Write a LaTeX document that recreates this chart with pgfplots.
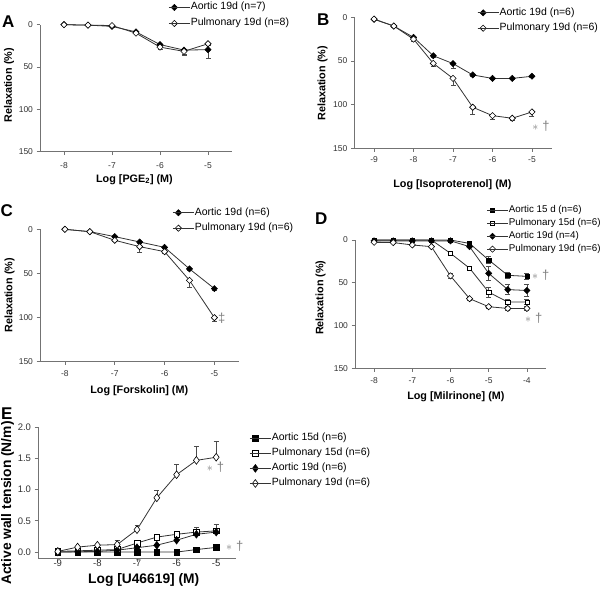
\documentclass[border=0pt]{standalone}
\usepackage{pgfplots}
\pgfplotsset{compat=1.18}
\usepackage{fontspec}
\setmainfont{Liberation Sans}
\definecolor{axgray}{gray}{0.45}
\definecolor{lngray}{gray}{0.2}
\definecolor{ebgray}{gray}{0.3}
\definecolor{stargray}{gray}{0.5}
\tikzset{starlbl/.style={font=\fontsize{13}{15}\selectfont, text=stargray, anchor=center}}
\newcommand{\lgfont}{\fontsize{10.5}{12}\selectfont}
\newcommand{\lgfontD}{\fontsize{9.8}{12}\selectfont}
\newcommand{\stars}{$\ast$\hspace{4pt}†}
\pgfplotsset{
  prism/.style={
    scale only axis, clip=false,
    axis x line*=bottom, axis y line*=left,
    axis line style={-, draw=axgray, line width=0.9pt},
    tick style={draw=axgray, line width=0.8pt},
    tick align=outside, major tick length=3.5pt,
    ticklabel style={text=black!80, font=\fontsize{8.5}{10}\selectfont},
    label style={font=\bfseries\fontsize{10.8}{13}\selectfont},
    legend style={draw=none, fill=none, inner sep=0pt, outer sep=0pt, anchor=north west,
      cells={anchor=west},
      nodes={inner sep=0.5pt, text height=7.5pt, text depth=2.5pt}},
    legend image code/.code={
      \draw[mark repeat=2, mark phase=2, ##1] plot coordinates {(0pt,0pt) (5.5pt,0pt) (11pt,0pt)};
      \path (0pt,0pt) -- (21pt,0pt);
    },
    every axis plot/.append style={line width=0.8pt, draw=lngray},
    error bars/error bar style={line width=0.6pt, draw=ebgray},
    error bars/error mark options={rotate=90, mark size=2.5pt, line width=0.6pt, draw=ebgray},
  },
  fdia/.style={mark=square*, mark size=2.2pt, mark options={rotate=45, fill=black, draw=black, solid, line width=0.5pt}},
  odia/.style={mark=square*, mark size=2.2pt, mark options={rotate=45, fill=white, draw=black, solid, line width=0.6pt}},
  fsq/.style={mark=square*, mark size=2.1pt, mark options={fill=black, draw=black, solid, line width=0.5pt}},
  osq/.style={mark=square*, mark size=2.1pt, mark options={fill=white, draw=black, solid, line width=0.6pt}},
}
\begin{document}
\begin{tikzpicture}
\useasboundingbox (0pt,0pt) rectangle (604pt,589pt);

% ---------------- A ----------------
\begin{axis}[prism, at={(40pt,437.3pt)}, anchor=south west, width=192pt, height=127pt,
  xmin=-8.5, xmax=-4.5, ymin=-150, ymax=0,
  xtick={-8,-7,-6,-5}, xticklabels={-8,-7,-6,-5},
  ytick={-150,-100,-50,0}, yticklabels={150,100,50,0},
  xticklabel style={anchor=base, yshift=-13.8pt},
  xlabel={Log [PGE\textsubscript{2}] (M)}, ylabel={Relaxation (\%)},
  xlabel style={at={(axis description cs:0.492,-0.241)}, anchor=base},
  ylabel style={at={(axis description cs:-0.147,0.523)}, anchor=base},
  legend style={at={(axis description cs:0.669,1.179)}, row sep=5pt, font=\lgfont},
  error bars/y dir=minus, error bars/y explicit]
\addplot[fdia] coordinates {(-8,0) +- (0,0) (-7.5,-0.5) +- (0,0.5) (-7,-2) +- (0,1.5) (-6.5,-8.5) +- (0,1.5) (-6,-23.5) +- (0,3) (-5.5,-30) +- (0,6) (-5,-29.5) +- (0,10)};
\addlegendentry{\lgfont Aortic 19d (n=7)}
\addplot[odia] coordinates {(-8,0) +- (0,0) (-7.5,-0.5) +- (0,0.5) (-7,-1) +- (0,1) (-6.5,-10) +- (0,1.5) (-6,-26.5) +- (0,2.5) (-5.5,-31.5) +- (0,3) (-5,-22.5) +- (0,1.5)};
\addlegendentry{\lgfont Pulmonary 19d (n=8)}
\end{axis}

% ---------------- B ----------------
\begin{axis}[prism, at={(354.3pt,440.7pt)}, anchor=south west, width=197.4pt, height=131pt,
  xmin=-9.5, xmax=-4.5, ymin=-150, ymax=0,
  xtick={-9,-8,-7,-6,-5}, xticklabels={-9,-8,-7,-6,-5},
  ytick={-150,-100,-50,0}, yticklabels={150,100,50,0},
  xticklabel style={anchor=base, yshift=-10.5pt},
  xlabel={Log [Isoproterenol] (M)}, ylabel={Relaxation (\%)},
  xlabel style={at={(axis description cs:0.497,-0.301)}, anchor=base},
  ylabel style={at={(axis description cs:-0.147,0.496)}, anchor=base},
  legend style={at={(axis description cs:0.623,1.076)}, row sep=4.4pt, font=\lgfont},
  error bars/y dir=minus, error bars/y explicit]
\addplot[fdia] coordinates {(-9,-2.3) +- (0,0.5) (-8.5,-10) +- (0,1) (-8,-23) +- (0,2) (-7.5,-44) +- (0,2) (-7,-53) +- (0,5) (-6.5,-66) +- (0,2) (-6,-70) +- (0,1.5) (-5.5,-70) +- (0,1.5) (-5,-67.5) +- (0,1.5)};
\addlegendentry{\lgfont Aortic 19d (n=6)}
\addplot[odia] coordinates {(-9,-2) +- (0,0.5) (-8.5,-10) +- (0,1) (-8,-25) +- (0,2) (-7.5,-52.7) +- (0,3) (-7,-70) +- (0,7.5) (-6.5,-103) +- (0,7.7) (-6,-112.6) +- (0,4.4) (-5.5,-115.6) +- (0,2.4) (-5,-108.4) +- (0,4.6)};
\addlegendentry{\lgfont Pulmonary 19d (n=6)}
\node[starlbl] at (axis cs:-4.77,-124.5) {\stars};
\end{axis}

% ---------------- C ----------------
\begin{axis}[prism, at={(40pt,227.7pt)}, anchor=south west, width=199.3pt, height=132pt,
  xmin=-8.5, xmax=-4.5, ymin=-150, ymax=0,
  xtick={-8,-7,-6,-5}, xticklabels={-8,-7,-6,-5},
  ytick={-150,-100,-50,0}, yticklabels={150,100,50,0},
  xticklabel style={anchor=base, yshift=-11.9pt},
  xlabel={Log [Forskolin] (M)}, ylabel={Relaxation (\%)},
  xlabel style={at={(axis description cs:0.498,-0.242)}, anchor=base},
  ylabel style={at={(axis description cs:-0.139,0.5)}, anchor=base},
  legend style={at={(axis description cs:0.665,1.167)}, row sep=4.4pt, font=\lgfont},
  error bars/y dir=minus, error bars/y explicit]
\addplot[fdia] coordinates {(-8,0) +- (0,0) (-7.5,-2.7) +- (0,0.5) (-7,-8.3) +- (0,1) (-6.5,-14.4) +- (0,1.5) (-6,-20.5) +- (0,1.5) (-5.5,-45) +- (0,2) (-5,-67.4) +- (0,1.5)};
\addlegendentry{\lgfont Aortic 19d (n=6)}
\addplot[odia] coordinates {(-8,0) +- (0,0) (-7.5,-2.7) +- (0,0.5) (-7,-12.5) +- (0,1.5) (-6.5,-19.7) +- (0,6.3) (-6,-25.4) +- (0,2) (-5.5,-58) +- (0,8) (-5,-100.4) +- (0,4)};
\addlegendentry{\lgfont Pulmonary 19d (n=6)}
\node[starlbl] at (axis cs:-4.85,-100.8) {‡};
\end{axis}

% ---------------- D ----------------
\begin{axis}[prism, at={(355pt,220.7pt)}, anchor=south west, width=191pt, height=128.3pt,
  xmin=-8.5, xmax=-3.5, ymin=-150, ymax=0,
  xtick={-8,-7,-6,-5,-4}, xticklabels={-8,-7,-6,-5,-4},
  ytick={-150,-100,-50,0}, yticklabels={150,100,50,0},
  xticklabel style={anchor=base, yshift=-11.5pt},
  xlabel={Log [Milrinone] (M)}, ylabel={Relaxation (\%)},
  xlabel style={at={(axis description cs:0.528,-0.242)}, anchor=base},
  ylabel style={at={(axis description cs:-0.166,0.55)}, anchor=base},
  legend style={at={(axis description cs:0.689,1.273)}, row sep=1.9pt, font=\lgfontD},
  error bars/y dir=both, error bars/y explicit]
\addplot[fsq] coordinates {(-8,0) +- (0,0) (-7.5,0) +- (0,0) (-7,0) +- (0,0) (-6.5,0) +- (0,0) (-6,0) +- (0,0) (-5.5,-4) +- (0,1) (-5,-23.4) +- (0,4) (-4.5,-41.3) +- (0,4) (-4,-42.5) +- (0,3)};
\addlegendentry{\lgfontD Aortic 15 d (n=6)}
\addplot[osq] coordinates {(-8,0) +- (0,0) (-7.5,0) +- (0,0) (-7,0) +- (0,0) (-6.5,0) +- (0,0) (-6,-15.6) +- (0,2) (-5.5,-33) +- (0,2) (-5,-61) +- (0,6) (-4.5,-72.5) +- (0,3) (-4,-72.5) +- (0,3)};
\addlegendentry{\lgfontD Pulmonary 15d (n=6)}
\addplot[fdia] coordinates {(-8,-1) +- (0,0) (-7.5,-1) +- (0,0) (-7,-1) +- (0,0) (-6.5,-1) +- (0,0) (-6,-1) +- (0,0) (-5.5,-7.8) +- (0,1) (-5,-39) +- (0,7.8) (-4.5,-58) +- (0,6) (-4,-59) +- (0,7)};
\addlegendentry{\lgfontD Aortic 19d (n=4)}
\addplot[odia] coordinates {(-8,-2.7) +- (0,0) (-7.5,-3) +- (0,0) (-7,-5.8) +- (0,0) (-6.5,-7.8) +- (0,0) (-6,-42) +- (0,3) (-5.5,-68.6) +- (0,2) (-5,-78) +- (0,2) (-4.5,-80) +- (0,2) (-4,-80) +- (0,2)};
\addlegendentry{\lgfontD Pulmonary 19d (n=6)}
\node[starlbl] at (axis cs:-3.64,-40.9) {\stars};
\node[starlbl] at (axis cs:-3.82,-91.5) {\stars};
\end{axis}

% ---------------- E ----------------
\begin{axis}[prism, at={(38pt,30.7pt)}, anchor=south west, width=198pt, height=131pt,
  xmin=-9.5, xmax=-4.5, ymin=-0.1, ymax=2.0,
  xtick={-9,-8,-7,-6,-5}, xticklabels={-9,-8,-7,-6,-5},
  ytick={0,0.5,1,1.5,2}, yticklabels={0.0,0.5,1.0,1.5,2.0},
  ticklabel style={font=\fontsize{9.5}{11}\selectfont},
  label style={font=\bfseries\fontsize{13.8}{16}\selectfont},
  xticklabel style={anchor=base, yshift=-5pt},
  xlabel={Log [U46619] (M)}, ylabel={Active wall tension (N/m)},
  xlabel style={at={(axis description cs:0.534,-0.196)}, anchor=base},
  ylabel style={at={(axis description cs:-0.136,0.422)}, anchor=base},
  legend style={at={(axis description cs:1.068,0.959)}, row sep=4.1pt, font=\lgfont},
  error bars/y dir=plus, error bars/y explicit]
\addplot[fsq, mark size=2.8pt] coordinates {(-9,0) +- (0,0) (-8.5,0) +- (0,0) (-8,0) +- (0,0) (-7.5,0) +- (0,0) (-7,0) +- (0,0) (-6.5,0) +- (0,0) (-6,0) +- (0,0) (-5.5,0.04) +- (0,0.01) (-5,0.075) +- (0,0.01)};
\addlegendentry{\lgfont Aortic 15d (n=6)}
\addplot[osq, mark size=2.8pt] coordinates {(-9,0.01) +- (0,0) (-8.5,0.02) +- (0,0) (-8,0.03) +- (0,0) (-7.5,0.04) +- (0,0.01) (-7,0.145) +- (0,0.02) (-6.5,0.24) +- (0,0.02) (-6,0.285) +- (0,0.03) (-5.5,0.32) +- (0,0.07) (-5,0.34) +- (0,0.1)};
\addlegendentry{\lgfont Pulmonary 15d (n=6)}
\addplot[mark=diamond*, mark size=3.9pt, mark options={fill=black, draw=black, solid, line width=0.5pt}] coordinates {(-9,0) +- (0,0) (-8.5,0.005) +- (0,0) (-8,0.01) +- (0,0) (-7.5,0.03) +- (0,0) (-7,0.07) +- (0,0.01) (-6.5,0.11) +- (0,0.02) (-6,0.19) +- (0,0.02) (-5.5,0.285) +- (0,0.04) (-5,0.32) +- (0,0.05)};
\addlegendentry{\lgfont Aortic 19d (n=6)}
\addplot[mark=diamond*, mark size=3.9pt, mark options={fill=white, draw=black, solid, line width=0.6pt}] coordinates {(-9,0.01) +- (0,0.01) (-8.5,0.08) +- (0,0.01) (-8,0.11) +- (0,0.01) (-7.5,0.12) +- (0,0.07) (-7,0.36) +- (0,0.07) (-6.5,0.87) +- (0,0.12) (-6,1.24) +- (0,0.17) (-5.5,1.47) +- (0,0.22) (-5,1.52) +- (0,0.25)};
\addlegendentry{\lgfont Pulmonary 19d (n=6)}
\node[starlbl] at (axis cs:-5.02,1.358) {\stars};
\node[starlbl] at (axis cs:-4.53,0.097) {\stars};
\end{axis}

% panel letters
\node[anchor=base west, inner sep=0pt, font=\bfseries\fontsize{17}{20}\selectfont] at (2pt,561.7pt) {A};
\node[anchor=base west, inner sep=0pt, font=\bfseries\fontsize{17}{20}\selectfont] at (317pt,563pt) {B};
\node[anchor=base west, inner sep=0pt, font=\bfseries\fontsize{17}{20}\selectfont] at (0.5pt,372.3pt) {C};
\node[anchor=base west, inner sep=0pt, font=\bfseries\fontsize{17}{20}\selectfont] at (315pt,364pt) {D};
\node[anchor=base west, inner sep=0pt, font=\bfseries\fontsize{17}{20}\selectfont] at (1pt,169pt) {E};
\end{tikzpicture}
\end{document}
